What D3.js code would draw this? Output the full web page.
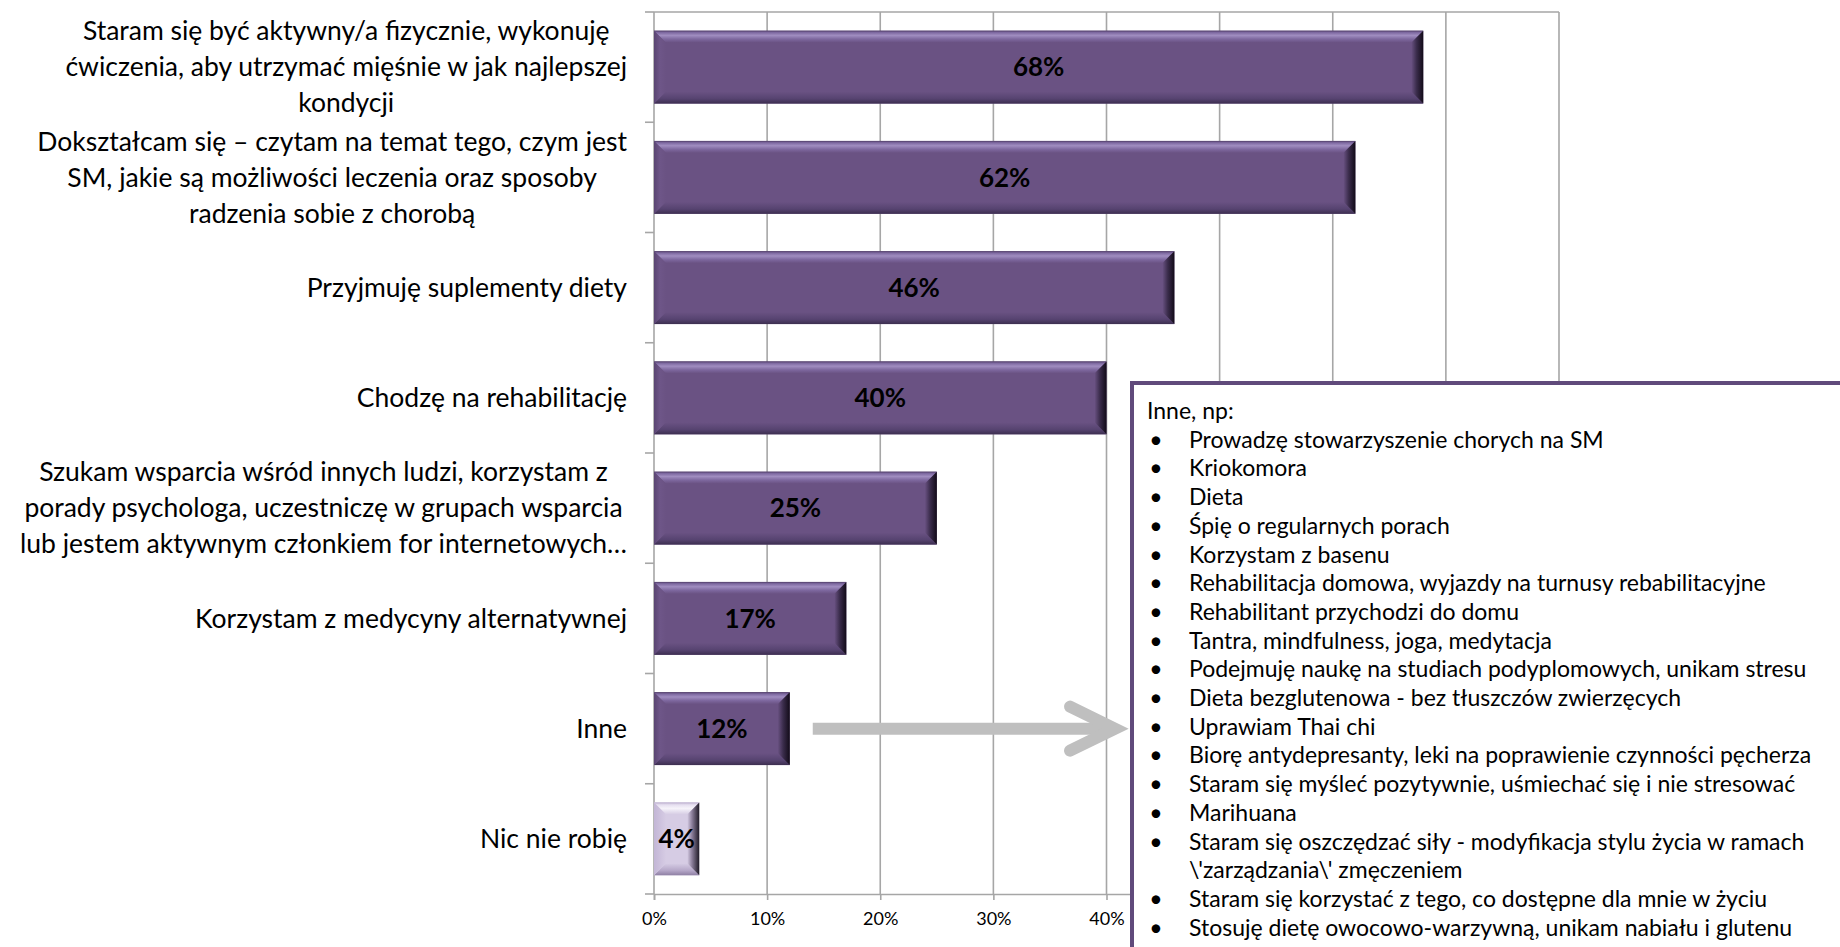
<!DOCTYPE html>
<html>
<head>
<meta charset="utf-8">
<script src="https://cdn.jsdelivr.net/npm/d3@7"></script>
<style>
  html, body { margin: 0; padding: 0; background: #ffffff; }
  svg { display: block; }
  text { font-family: Lato, "Open Sans", sans-serif; fill: #000; }
</style>
</head>
<body>
<svg id="chart" width="1840" height="947"></svg>
<script>
// Category labels (pre-wrapped lines), top to bottom
const categories = [
  ["Staram się być aktywny/a fizycznie, wykonuję", "ćwiczenia, aby utrzymać mięśnie w jak najlepszej", "kondycji"],
  ["Dokształcam się – czytam na temat tego, czym jest", "SM, jakie są możliwości leczenia oraz sposoby", "radzenia sobie z chorobą"],
  ["Przyjmuję suplementy diety"],
  ["Chodzę na rehabilitację"],
  ["Szukam wsparcia wśród innych ludzi, korzystam z", "porady psychologa, uczestniczę w grupach wsparcia", "lub jestem aktywnym członkiem for internetowych…"],
  ["Korzystam z medycyny alternatywnej"],
  ["Inne"],
  ["Nic nie robię"]
];
// Share of respondents, %
const values = [68, 62, 46, 40, 25, 17, 12, 4];
// Highlighted (light) bar
const lightCategory = "Nic nie robię";
// X axis ticks, %
const xTicks = [0, 10, 20, 30, 40, 50, 60, 70, 80];
// Details of "Inne" answers
const otherHeader = "Inne, np:";
const otherItems = [
  ["Prowadzę stowarzyszenie chorych na SM"],
  ["Kriokomora"],
  ["Dieta"],
  ["Śpię o regularnych porach"],
  ["Korzystam z basenu"],
  ["Rehabilitacja domowa, wyjazdy na turnusy rebabilitacyjne"],
  ["Rehabilitant przychodzi do domu"],
  ["Tantra, mindfulness, joga, medytacja"],
  ["Podejmuję naukę na studiach podyplomowych, unikam stresu"],
  ["Dieta bezglutenowa - bez tłuszczów zwierzęcych"],
  ["Uprawiam Thai chi"],
  ["Biorę antydepresanty, leki na poprawienie czynności pęcherza"],
  ["Staram się myśleć pozytywnie, uśmiechać się i nie stresować"],
  ["Marihuana"],
  ["Staram się oszczędzać siły - modyfikacja stylu życia w ramach", "\\'zarządzania\\' zmęczeniem"],
  ["Staram się korzystać z tego, co dostępne dla mnie w życiu"],
  ["Stosuję dietę owocowo-warzywną, unikam nabiału i glutenu"]
];

const svg = d3.select("#chart");
const plot = { left: 654, right: 1559, top: 12, bottom: 894 };
const keys = categories.map(c => c.join(" "));
const boxLeft = 1132, boxTop = 383;

const x = d3.scaleLinear().domain([0, 80]).range([plot.left, plot.right]);
const y = d3.scaleBand().domain(keys).range([plot.top, plot.bottom]).paddingInner(0.338).paddingOuter(0.169);
const yb = d3.scaleBand().domain(keys).range([plot.top, plot.bottom]);

const gridColor = "#a6a6a6";

// Gradients for bevelled bars
const defs = svg.append("defs");
function grad(id, vertical, stops) {
  const g = defs.append("linearGradient").attr("id", id)
    .attr("x1", 0).attr("y1", 0).attr("x2", vertical ? 0 : 1).attr("y2", vertical ? 1 : 0);
  stops.forEach(([o, c]) => g.append("stop").attr("offset", o).attr("stop-color", c));
}
const palettes = {
  dark: {
    main: "#6a5283",
    top: [["0", "#4e3c65"], ["0.15", "#7d68a0"], ["0.4", "#a08dc0"], ["0.7", "#7e689f"], ["1", "#6a5283"]],
    bottom: [["0", "#6a5283"], ["0.6", "#564370"], ["1", "#3c2e4f"]],
    left: [["0", "#5a4572"], ["0.5", "#6e5688"], ["1", "#6a5283"]],
    right: [["0", "#6a5283"], ["0.45", "#3a2c4b"], ["1", "#120b18"]]
  },
  light: {
    main: "#d6cce4",
    top: [["0", "#b8aacb"], ["0.2", "#e6dff0"], ["0.5", "#f6f3fa"], ["1", "#d6cce4"]],
    bottom: [["0", "#d6cce4"], ["0.6", "#b5a7c8"], ["1", "#8e7fa3"]],
    left: [["0", "#c3b6d6"], ["1", "#d6cce4"]],
    right: [["0", "#d6cce4"], ["0.4", "#8a7d99"], ["1", "#1f1a26"]]
  }
};
Object.entries(palettes).forEach(([k, p]) => {
  grad(k + "-top", true, p.top);
  grad(k + "-bottom", true, p.bottom);
  grad(k + "-left", false, p.left);
  grad(k + "-right", false, p.right);
});

// Vertical gridlines
svg.append("g").selectAll("line").data(xTicks.slice(1)).join("line")
  .attr("x1", d => x(d)).attr("x2", d => x(d))
  .attr("y1", plot.top).attr("y2", plot.bottom)
  .attr("stroke", gridColor).attr("stroke-width", 1.6);
// Top border of plot area
svg.append("line").attr("x1", plot.left).attr("x2", plot.right)
  .attr("y1", plot.top).attr("y2", plot.top)
  .attr("stroke", gridColor).attr("stroke-width", 1.6);

// X axis (labels under the details box are covered, so only visible ones are written)
const xAxis = d3.axisBottom(x).tickValues(xTicks)
  .tickFormat(d => x(d) + 20 < boxLeft ? d + "%" : "")
  .tickSize(6).tickPadding(12);
const gx = svg.append("g").attr("transform", `translate(0,${plot.bottom})`).call(xAxis);
gx.select(".domain").attr("stroke", gridColor).attr("stroke-width", 1.6);
gx.selectAll(".tick line").attr("stroke", gridColor).attr("stroke-width", 1.6);
gx.selectAll(".tick text").style("font-size", "18px").style("font-family", "Lato, sans-serif").attr("fill", "#000");

// Y axis line and boundary ticks
svg.append("line").attr("x1", plot.left).attr("x2", plot.left)
  .attr("y1", plot.top).attr("y2", plot.bottom)
  .attr("stroke", gridColor).attr("stroke-width", 1.6);
const bounds = keys.map(k => yb(k)).concat([plot.bottom]);
svg.append("g").selectAll("line").data(bounds).join("line")
  .attr("x1", plot.left - 9).attr("x2", plot.left)
  .attr("y1", d => d).attr("y2", d => d)
  .attr("stroke", gridColor).attr("stroke-width", 1.6);

// Bars
const rows = keys.map((k, i) => ({ key: k, lines: categories[i], value: values[i] }));
const bars = svg.append("g").selectAll("g").data(rows).join("g");
bars.each(function (d) {
  const g = d3.select(this);
  const pal = d.key === lightCategory ? "light" : "dark";
  const x0 = x(0), x1 = x(d.value), y0 = y(d.key), y1 = y0 + y.bandwidth();
  const b = Math.min(12, (x1 - x0) / 3);
  g.append("rect").attr("x", x0).attr("y", y0).attr("width", x1 - x0).attr("height", y1 - y0)
    .attr("fill", palettes[pal].main);
  const poly = (pts, fill) => g.append("polygon").attr("points", pts.map(p => p.join(",")).join(" ")).attr("fill", fill);
  poly([[x0, y0], [x1, y0], [x1 - b, y0 + b], [x0 + b, y0 + b]], `url(#${pal}-top)`);
  poly([[x0, y1], [x1, y1], [x1 - b, y1 - b], [x0 + b, y1 - b]], `url(#${pal}-bottom)`);
  poly([[x0, y0], [x0 + b, y0 + b], [x0 + b, y1 - b], [x0, y1]], `url(#${pal}-left)`);
  poly([[x1, y0], [x1 - b, y0 + b], [x1 - b, y1 - b], [x1, y1]], `url(#${pal}-right)`);
  g.append("text").attr("x", (x0 + x1) / 2).attr("y", y0 + y.bandwidth() / 2).attr("dy", "0.36em")
    .attr("text-anchor", "middle").style("font-size", "26px").style("font-weight", 700)
    .text(d.value + "%");
});

// Category labels: lines centred on each other, block right-aligned to the axis
const labelRight = 627, labelLH = 36;
const labels = svg.append("g").selectAll("text").data(rows).join("text")
  .style("font-size", "26.5px").attr("text-anchor", "middle");
labels.each(function (d) {
  const t = d3.select(this);
  const cy = yb(d.key) + yb.bandwidth() / 2;
  const n = d.lines.length;
  d.lines.forEach((line, j) => {
    t.append("tspan").attr("y", cy + (j - (n - 1) / 2) * labelLH).attr("dy", "0.35em").text(line);
  });
  let maxW = 0;
  t.selectAll("tspan").each(function () { maxW = Math.max(maxW, this.getComputedTextLength()); });
  t.selectAll("tspan").attr("x", labelRight - maxW / 2);
});

// Arrow from "Inne" bar to the details box
const innyKey = keys[6];
const ay = yb(innyKey) + yb.bandwidth() / 2;
const ax0 = x(values[6]) + 23, ax1 = boxLeft - 17;
svg.append("line").attr("x1", ax0).attr("x2", ax1 - 3).attr("y1", ay).attr("y2", ay)
  .attr("stroke", "#bfbfbf").attr("stroke-width", 12);
svg.append("path").attr("d", `M${ax1 - 45},${ay - 22} L${ax1},${ay} L${ax1 - 45},${ay + 22}`)
  .attr("fill", "none").attr("stroke", "#bfbfbf").attr("stroke-width", 12)
  .attr("stroke-linecap", "round").attr("stroke-linejoin", "miter");

// Details box
svg.append("rect").attr("x", boxLeft).attr("y", boxTop).attr("width", 800).attr("height", 700)
  .attr("fill", "#fff").attr("stroke", "#604a7b").attr("stroke-width", 4);
const lineH = 28.7, fs = 23;
let ly = 411;
svg.append("text").attr("x", 1147).attr("y", ly).attr("dy", "0.35em").style("font-size", fs + "px").text(otherHeader);
const box = svg.append("g");
otherItems.forEach(item => {
  item.forEach((line, j) => {
    ly += lineH;
    if (j === 0) {
      box.append("text").attr("x", 1156).attr("y", ly).attr("dy", "0.35em").attr("text-anchor", "middle")
        .style("font-size", fs + "px").text("•");
    }
    box.append("text").attr("x", 1189).attr("y", ly).attr("dy", "0.35em").style("font-size", fs + "px").text(line);
  });
});
</script>
</body>
</html>
